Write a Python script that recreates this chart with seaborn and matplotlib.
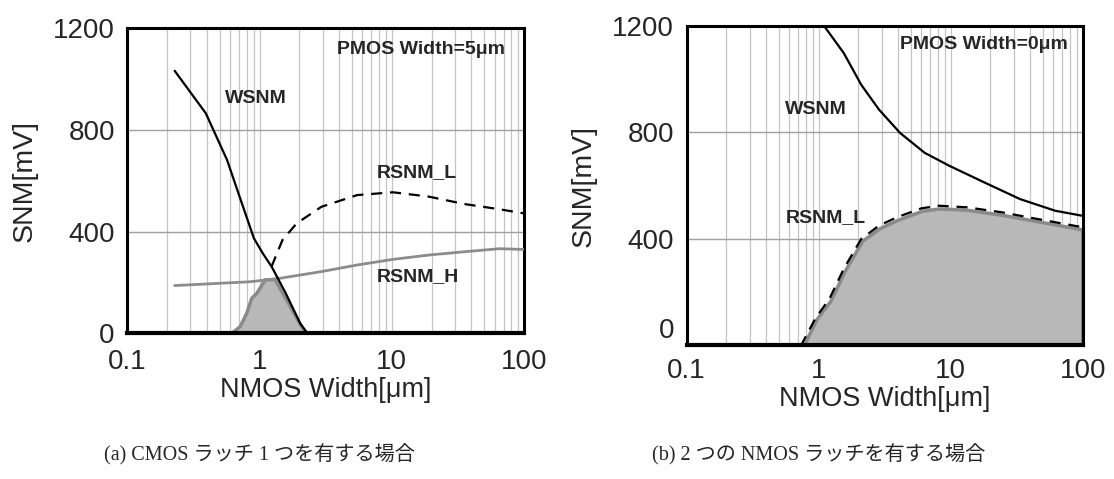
import numpy as np
import pandas as pd
import matplotlib
matplotlib.use("Agg")
import matplotlib.pyplot as plt
from matplotlib.transforms import ScaledTranslation
import seaborn as sns

# ---- (a) one CMOS latch, PMOS width = 5 um ----
a_wsnm_w = [0.228, 0.392, 0.568, 0.706, 0.906, 1.057, 1.235, 1.58, 2.03, 2.30]
a_wsnm_v = [1033, 866, 682, 538, 374, 315, 262, 157, 39, 0]

a_rsnml_w = [1.23, 1.49, 1.91, 2.94, 5.48, 10.2, 19.0, 35.2, 65.6, 100]
a_rsnml_v = [262, 367, 433, 498, 544, 555, 538, 509, 488, 472]

a_rsnmh_w = [0.228, 0.851, 1.40, 2.94, 5.48, 10.2, 19.0, 35.2, 65.6, 100]
a_rsnmh_v = [188, 203, 216, 243, 269, 291, 308, 321, 333, 330]

a_margin_w = [0.616, 0.713, 0.80, 0.873, 0.953, 1.10, 1.31, 2.08, 2.27]
a_margin_v = [0, 26, 79, 138, 157, 210, 212, 26, 0]

# ---- (b) two NMOS latches, PMOS width = 0 um ----
b_wsnm_w = [1.10, 1.55, 2.10, 2.86, 4.13, 6.35, 9.78, 18.1, 33.5, 62.0, 100]
b_wsnm_v = [1200, 1098, 979, 886, 798, 723, 674, 611, 549, 505, 486]

b_rsnml_w = [0.1, 0.738, 0.944, 1.21, 1.55, 2.10, 2.86, 3.89, 5.98, 8.13, 13.3, 24.6, 45.5, 100]
b_rsnml_v = [0, 0, 100, 175, 287, 399, 449, 480, 514, 524, 518, 499, 474, 443]

b_margin_w = [0.78, 0.97, 1.24, 1.58, 2.15, 2.9, 3.95, 6.1, 8.3, 13.3, 24.6, 45.5, 100, 100]
b_margin_v = [0, 95, 165, 275, 390, 437, 468, 503, 512, 507, 488, 464, 433, 0]

x_ticks = [0.1, 1, 10, 100]
x_tick_labels = ["0.1", "1", "10", "100"]
y_ticks = [0, 400, 800, 1200]

captions = ["(a) CMOS ラッチ 1 つを有する場合", "(b) 2 つの NMOS ラッチを有する場合"]

sns.set_style("white")
plt.rcParams["font.family"] = ["Liberation Sans", "DejaVu Sans"]

fig = plt.figure(figsize=(11.14, 4.79), dpi=100)
ax_a = fig.add_axes([0.1143, 0.3041, 0.3561, 0.6367])
ax_b = fig.add_axes([0.6164, 0.2797, 0.3555, 0.6660])

FILL = "#b8b8b8"
EDGE = "#8a8a8a"
TICK_FS = 20
LABEL_FS = 19.5
NOTE_FS = 14


def style_axes(ax, xpad):
    ax.set_xscale("log")
    ax.set_xlim(0.1, 100)
    ax.set_ylim(0, 1200)
    # vertical grid at every decade subdivision
    for k in range(-1, 2):
        for m in range(1, 10):
            xv = m * 10.0 ** k
            if 0.1 < xv < 100:
                ax.axvline(xv, color="#c4c4c4", lw=0.9, zorder=0)
    for yv in (400, 800):
        ax.axhline(yv, color="#a0a0a0", lw=1.0, zorder=0)
    ax.set_xticks(x_ticks)
    ax.set_xticklabels(x_tick_labels)
    ax.xaxis.set_minor_locator(matplotlib.ticker.NullLocator())
    ax.set_yticks(y_ticks)
    ax.tick_params(axis="x", length=0, labelsize=TICK_FS, pad=xpad)
    ax.tick_params(axis="y", length=4, width=1, color="#888888", labelsize=TICK_FS, pad=5)
    ax.grid(False)
    for side in ("top", "right", "left"):
        ax.spines[side].set_linewidth(2.2)
        ax.spines[side].set_color("black")
    ax.spines["bottom"].set_linewidth(3.0)
    ax.spines["bottom"].set_color("black")
    ax.set_xlabel("NMOS Width[μm]", fontsize=LABEL_FS, labelpad=2)
    ax.set_ylabel("SNM[mV]", fontsize=20.5, labelpad=11)


# panel (a)
style_axes(ax_a, 11)
ax_a.fill(a_margin_w, a_margin_v, facecolor=FILL, edgecolor=EDGE, lw=2.5, zorder=2)
sns.lineplot(x=a_rsnmh_w, y=a_rsnmh_v, ax=ax_a, color="#8c8c8c", lw=2.0, zorder=3)
sns.lineplot(x=a_wsnm_w, y=a_wsnm_v, ax=ax_a, color="black", lw=1.6, zorder=4)
sns.lineplot(x=a_rsnml_w, y=a_rsnml_v, ax=ax_a, color="black", lw=1.6, zorder=4,
             linestyle=(0, (5, 3.5)))
ax_a.text(72, 1115, "PMOS Width=5μm", ha="right", va="center", fontsize=NOTE_FS, fontweight="bold")
ax_a.text(0.55, 925, "WSNM", ha="left", va="center", fontsize=NOTE_FS, fontweight="bold")
ax_a.text(7.7, 632, "RSNM_L", ha="left", va="center", fontsize=NOTE_FS, fontweight="bold")
ax_a.text(7.7, 223, "RSNM_H", ha="left", va="center", fontsize=NOTE_FS, fontweight="bold")

# panel (b)
style_axes(ax_b, 9)
ax_b.fill(b_margin_w, b_margin_v, facecolor=FILL, edgecolor=EDGE, lw=2.5, zorder=2)
sns.lineplot(x=b_wsnm_w, y=b_wsnm_v, ax=ax_b, color="black", lw=1.6, zorder=4)
sns.lineplot(x=b_rsnml_w, y=b_rsnml_v, ax=ax_b, color="black", lw=1.6, zorder=4,
             linestyle=(0, (5, 3.5)))
ax_b.text(76.7, 1129, "PMOS Width=0μm", ha="right", va="center", fontsize=NOTE_FS, fontweight="bold")
ax_b.text(0.56, 886, "WSNM", ha="left", va="center", fontsize=NOTE_FS, fontweight="bold")
ax_b.text(0.56, 480, "RSNM_L", ha="left", va="center", fontsize=NOTE_FS, fontweight="bold")

for ax in (ax_a, ax_b):
    ax.set_xlim(0.1, 100)
    ax.set_ylim(0, 1200)
    if ax.get_legend() is not None:
        ax.get_legend().remove()

# the zero label of the second panel sits a little above its baseline
zero_tick = ax_b.yaxis.get_major_ticks()[0]
zero_tick.label1.set_transform(zero_tick.label1.get_transform()
                               + ScaledTranslation(0, 0.17, fig.dpi_scale_trans))

cap_font = ["Liberation Serif", "Noto Sans CJK JP"]
fig.text(0.233, 0.05, captions[0], ha="center", va="center", fontsize=14.5, family=cap_font)
fig.text(0.735, 0.05, captions[1], ha="center", va="center", fontsize=14.5, family=cap_font)

fig.savefig("out.png", dpi=100)
